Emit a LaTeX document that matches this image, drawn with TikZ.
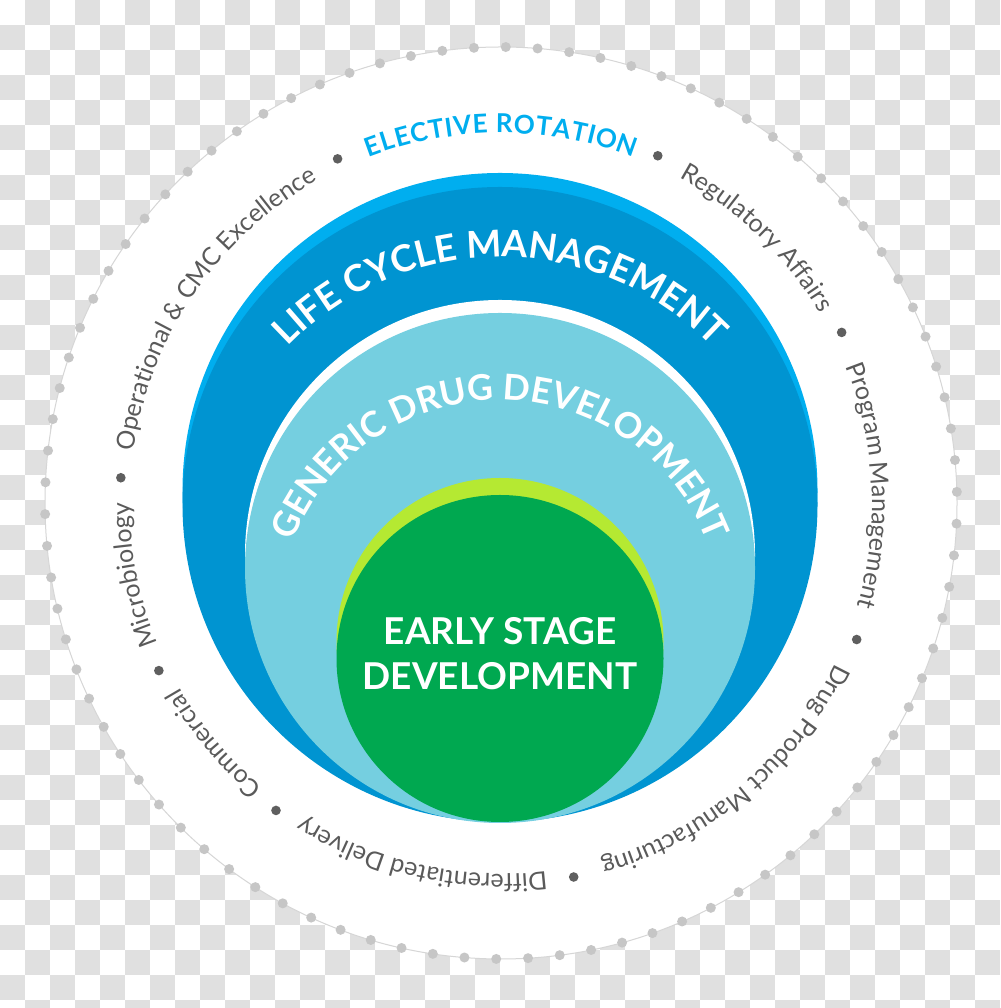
\documentclass[tikz,border=0pt]{standalone}
\usepackage{fontspec}
\setmainfont{Lato}
\usetikzlibrary{decorations.text}
\definecolor{checker}{HTML}{E0E0E0}
\definecolor{bordergrey}{HTML}{D6D6D6}
\definecolor{dotgrey}{HTML}{C6C6C6}
\definecolor{sepgrey}{HTML}{5F5F5F}
\definecolor{txtgrey}{HTML}{5A5A5A}
\definecolor{cyanb}{HTML}{00AEEF}
\definecolor{darkb}{HTML}{0094D1}
\definecolor{lightb}{HTML}{75CFE0}
\definecolor{limec}{HTML}{B5E932}
\definecolor{greenc}{HTML}{00A850}
\newcommand\rfont{\fontsize{25}{30}\selectfont\color{txtgrey}}
\newcommand\efont{\fontsize{26}{30}\selectfont\bfseries\color{cyanb}}
\newcommand\bigfont{\fontsize{37}{44}\selectfont\bfseries\color{white}}
\newcommand\gddfont{\fontsize{35.5}{44}\selectfont\bfseries\color{white}}
\tikzset{
  ringtext/.style={decorate, decoration={text along path, text align=center, text={|\rfont|#1}}},
  bigtext/.style={decorate, decoration={text along path, text align=center, text={|\bigfont|#1}}},
  gddtext/.style={decorate, decoration={text along path, text align=center, text={|\gddfont|#1}}},
  sepdot/.style={fill=sepgrey},
}
\begin{document}
\begin{tikzpicture}[x=1pt,y=1pt]
\useasboundingbox (0,0) rectangle (1000,1008);
% transparent-style checkerboard
\begin{scope}
\clip (0,0) rectangle (1000,1008);
\fill[white] (0,0) rectangle (1000,1008);
\foreach \j in {0,...,40}{
  \foreach \i in {0,...,39}{
    \ifodd\numexpr\i+\j\relax
      \fill[checker] (25*\i,1008-25*\j) rectangle ++(25,-25);
    \fi
  }
}
\end{scope}
% outer white disk with dotted border
\coordinate (ring) at (501,505);
\fill[white] (ring) circle[radius=456];
\draw[bordergrey, line width=1pt] (ring) circle[radius=456];
\foreach \k in {0,...,89}{
  \fill[dotgrey] (ring) ++(1.4+4*\k:456) circle[radius=5];
}
% nested circles
\coordinate (cyc) at (500,517.5);
\coordinate (dbc) at (500,503.5);
\coordinate (whc) at (500,453);
\coordinate (lbc) at (500,440);
\coordinate (lmc) at (500,366.5);
\coordinate (grc) at (500,349.5);
\fill[cyanb] (cyc) circle[radius=317.5];
\fill[darkb] (dbc) circle[radius=317.5];
\fill[white] (whc) circle[radius=255];
\fill[lightb] (lbc) circle[radius=255];
\fill[limec] (lmc) circle[radius=163.5];
\fill[greenc] (grc) circle[radius=163.5];
% separator dots on the ring
\foreach \a in {115.4,65.7,26.6,-21,-79,-126.2,-153.9,176.2}{
  \fill[sepdot] (ring) ++(\a:381) circle[radius=4.8];
}
% ring texts (clockwise, tops outward)
\path[decorate, decoration={text along path, text align=fit to path, text={|\efont|ELECTIVE ROTATION}}]
  (ring) ++(110.9:370) arc[start angle=110.9, end angle=69, radius=370];
\path[ringtext={Regulatory Affairs}] (ring) ++(64:371) arc[start angle=64, end angle=28, radius=371];
\path[ringtext={Program Management}] (ring) ++(25:371) arc[start angle=25, end angle=-19.5, radius=371];
\path[ringtext={Drug Product Manufacturing}] (ring) ++(-22.5:371) arc[start angle=-22.5, end angle=-77.5, radius=371];
\path[ringtext={Differentiated Delivery}] (ring) ++(-80.5:371) arc[start angle=-80.5, end angle=-124.7, radius=371];
\path[ringtext={Commercial}] (ring) ++(-127.7:371) arc[start angle=-127.7, end angle=-152.4, radius=371];
\path[ringtext={Microbiology}] (ring) ++(204.6:371) arc[start angle=204.6, end angle=177.7, radius=371];
\path[ringtext={Operational {\&} CMC Excellence}] (ring) ++(174.7:371) arc[start angle=174.7, end angle=116.9, radius=371];
% arced titles
\coordinate (lcmc) at (500,455);
\coordinate (gddc) at (500,386);
\path[bigtext={LIFE CYCLE MANAGEMENT}] (lcmc) ++(165:296) arc[start angle=165, end angle=15, radius=296];
\path[gddtext={GENERIC DRUG DEVELOPMENT}] (gddc) ++(178:222) arc[start angle=178, end angle=2, radius=222];
% centre title
\node[anchor=base, inner sep=0pt, font=\bigfont] (esd1) at (500,363) {EARLY STAGE};
\node[anchor=base, inner sep=0pt, font=\bigfont] (esd2) at (500,318) {DEVELOPMENT};
\end{tikzpicture}
\end{document}
